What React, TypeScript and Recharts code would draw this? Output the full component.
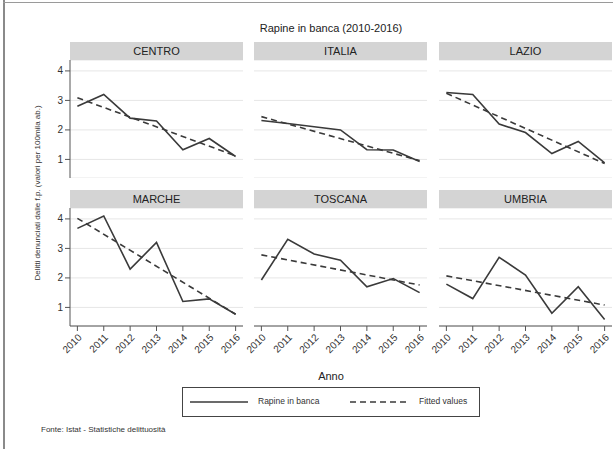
import { LineChart, Line, XAxis, YAxis, CartesianGrid } from 'recharts';

const YEARS = [2010, 2011, 2012, 2013, 2014, 2015, 2016];
const Y_TICKS = [1, 2, 3, 4];

// Rapine in banca, valori per 100mila ab.
const CENTRO = [2.8, 3.2, 2.4, 2.3, 1.33, 1.71, 1.1];
const ITALIA = [2.32, 2.22, 2.11, 2.0, 1.33, 1.32, 0.93];
const LAZIO = [3.27, 3.2, 2.2, 1.91, 1.2, 1.61, 0.88];
const MARCHE = [3.68, 4.1, 2.3, 3.2, 1.2, 1.29, 0.77];
const TOSCANA = [1.93, 3.31, 2.81, 2.6, 1.7, 1.98, 1.5];
const UMBRIA = [1.79, 1.3, 2.7, 2.1, 0.8, 1.7, 0.59];

// Fitted values (2010, 2016)
const CENTRO_FIT = [3.09, 1.12];
const ITALIA_FIT = [2.45, 0.96];
const LAZIO_FIT = [3.24, 0.86];
const MARCHE_FIT = [4.02, 0.77];
const TOSCANA_FIT = [2.78, 1.76];
const UMBRIA_FIT = [2.07, 1.08];

const PANELS = [
  { name: 'CENTRO', values: CENTRO, fit: CENTRO_FIT },
  { name: 'ITALIA', values: ITALIA, fit: ITALIA_FIT },
  { name: 'LAZIO', values: LAZIO, fit: LAZIO_FIT },
  { name: 'MARCHE', values: MARCHE, fit: MARCHE_FIT },
  { name: 'TOSCANA', values: TOSCANA, fit: TOSCANA_FIT },
  { name: 'UMBRIA', values: UMBRIA, fit: UMBRIA_FIT }
];

const COL_X = [70, 254, 439];
const ROW_Y = [60, 208];
const PLOT_W = 173;
const PLOT_H = 118;
const STRIP_H = 18;
const INK = '#3a3a3a';
const FONT = '"Liberation Sans", Arial, Helvetica, sans-serif';

function Panel({ name, values, fit, col, row }: { name: string; values: number[]; fit: number[]; col: number; row: number }) {
  const showY = col === 0;
  const showX = row === 1;
  const yW = showY ? 24 : 0;
  // room on the left for the rotated year labels
  const padL = showY ? 0 : 24;
  const xH = showX ? 36 : 0;
  const left = COL_X[col];
  const top = ROW_Y[row];

  const data = YEARS.map((year, i) => ({
    year,
    value: values[i],
    fit: i === 0 ? fit[0] : i === YEARS.length - 1 ? fit[1] : null
  }));

  return (
    <>
      <div
        style={{
          position: 'absolute', left, top: top - STRIP_H, width: PLOT_W, height: STRIP_H,
          background: '#d4d4d4', color: '#222', fontSize: 11, lineHeight: `${STRIP_H}px`, textAlign: 'center'
        }}
      >
        {name}
      </div>
      <div style={{ position: 'absolute', left: left - yW - padL, top }}>
        <LineChart width={PLOT_W + yW + padL} height={PLOT_H + xH} data={data} margin={{ top: 0, right: 0, bottom: 0, left: padL }}>
          <CartesianGrid vertical={false} stroke="#e6e6e6" />
          <XAxis
            dataKey="year"
            type="number"
            domain={[2009.72, 2016.28]}
            ticks={YEARS}
            interval={0}
            hide={!showX}
            height={xH}
            angle={-45}
            textAnchor="end"
            tick={{ fontSize: 10, fill: '#333' }}
            stroke="#555"
            tickSize={5}
            allowDataOverflow
          />
          <YAxis
            type="number"
            domain={[0.37, 4.37]}
            ticks={Y_TICKS}
            hide={!showY}
            width={yW}
            tick={{ fontSize: 10, fill: '#333' }}
            stroke="#555"
            tickSize={5}
            allowDataOverflow
          />
          <Line dataKey="value" stroke={INK} strokeWidth={1.6} dot={false} isAnimationActive={false} />
          <Line dataKey="fit" stroke={INK} strokeWidth={1.6} strokeDasharray="6 4" dot={false} connectNulls isAnimationActive={false} />
        </LineChart>
      </div>
    </>
  );
}

export default function App() {
  return (
    <div style={{ position: 'relative', width: 613, height: 449, background: '#fff', fontFamily: FONT, overflow: 'hidden' }}>
      <style>{'body{margin:0}'}</style>
      <div style={{ position: 'absolute', left: 3, top: 0, width: 2, height: 449, background: '#8a8a8a' }} />
      <div style={{ position: 'absolute', left: 3, top: 2, width: 610, height: 1, background: '#9a9a9a' }} />

      <div style={{ position: 'absolute', left: 231, top: 22, width: 200, textAlign: 'center', fontSize: 11, color: '#222' }}>
        Rapine in banca (2010-2016)
      </div>

      {PANELS.map((p, i) => (
        <Panel key={p.name} name={p.name} values={p.values} fit={p.fit} col={i % 3} row={Math.floor(i / 3)} />
      ))}

      <div
        style={{
          position: 'absolute', left: 37, top: 193, transform: 'translate(-50%, -50%) rotate(-90deg)',
          whiteSpace: 'nowrap', fontSize: 8, color: '#333'
        }}
      >
        Delitti denunciati dalle f.p. (valori per 100mila ab.)
      </div>

      <div style={{ position: 'absolute', left: 281, top: 370, width: 100, textAlign: 'center', fontSize: 11, color: '#222' }}>
        Anno
      </div>

      <div style={{ position: 'absolute', left: 182, top: 387, width: 296, height: 28, border: '1px solid #444', fontSize: 8.5, color: '#333' }}>
        <svg width={60} height={28} style={{ position: 'absolute', left: 7, top: 0 }}>
          <line x1={0} y1={14} x2={58} y2={14} stroke={INK} strokeWidth={1.5} />
        </svg>
        <span style={{ position: 'absolute', left: 75, top: 8 }}>Rapine in banca</span>
        <svg width={60} height={28} style={{ position: 'absolute', left: 167, top: 0 }}>
          <line x1={0} y1={14} x2={58} y2={14} stroke={INK} strokeWidth={1.5} strokeDasharray="6 4" />
        </svg>
        <span style={{ position: 'absolute', left: 236, top: 8 }}>Fitted values</span>
      </div>

      <div style={{ position: 'absolute', left: 41, top: 425, fontSize: 8, color: '#333' }}>
        Fonte: Istat - Statistiche delittuosità
      </div>
    </div>
  );
}
